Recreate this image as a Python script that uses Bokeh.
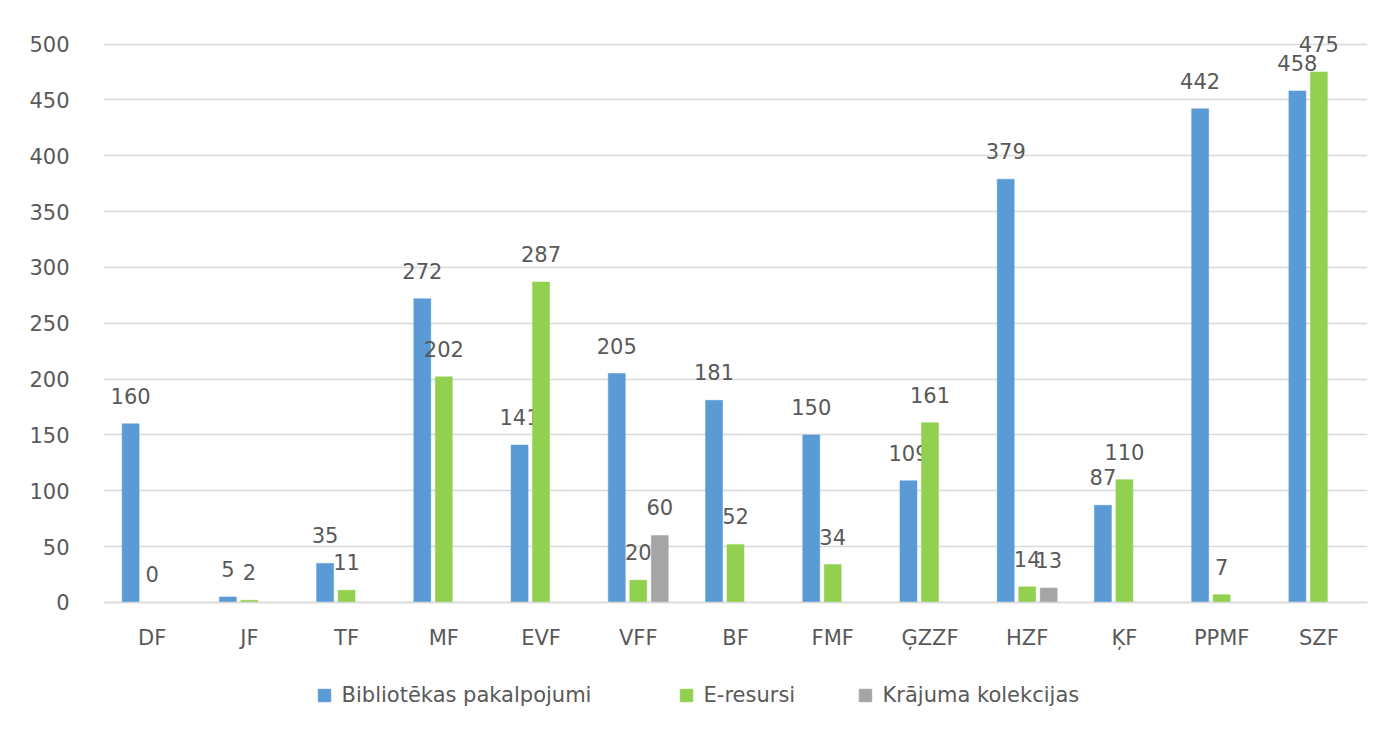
from bokeh.plotting import figure
from bokeh.models import ColumnDataSource, FactorRange, Range1d, FixedTicker, Legend, LegendItem
from bokeh.transform import dodge
from bokeh.core.properties import value
from bokeh.embed import file_html
from bokeh.resources import INLINE

categories = ["DF", "JF", "TF", "MF", "EVF", "VFF", "BF", "FMF", "ĢZZF", "HZF", "ĶF", "PPMF", "SZF"]
biblioteka = [160, 5, 35, 272, 141, 205, 181, 150, 109, 379, 87, 442, 458]
eresursi = [0, 2, 11, 202, 287, 20, 52, 34, 161, 14, 110, 7, 475]
krajums = [None, None, None, None, None, 60, None, None, None, 13, None, None, None]
series_names = ["Bibliotēkas pakalpojumi", "E-resursi", "Krājuma kolekcijas"]
y_ticks = [0, 50, 100, 150, 200, 250, 300, 350, 400, 450, 500]

colors = ["#5b9bd5", "#92d050", "#a5a5a5"]
FONT = "DejaVu Sans"
FS = "21px"
TXT = "#595959"

# frame spans the full height; the x axis is pinned at y=0 so that the legend
# can sit inside the frame below the category labels
p = figure(x_range=FactorRange(*categories), y_range=Range1d(-113.7, 530),
           width=1393, height=729, output_backend="svg", toolbar_location=None,
           min_border_left=103, min_border_right=26, min_border_top=10, min_border_bottom=0)
p.outline_line_color = None
p.background_fill_color = "white"
p.border_fill_color = "white"

p.xgrid.grid_line_color = None
p.ygrid.grid_line_color = "#d9d9d9"
p.ygrid.grid_line_width = 1.5
p.yaxis.ticker = FixedTicker(ticks=y_ticks)
p.yaxis.axis_line_color = None
p.yaxis.major_tick_line_color = None
p.yaxis.minor_tick_line_color = None
p.yaxis.major_label_standoff = 28
p.yaxis.major_label_text_font = FONT
p.yaxis.major_label_text_font_size = FS
p.yaxis.major_label_text_color = TXT

p.xaxis.fixed_location = 0
p.xaxis.axis_line_color = "#d9d9d9"
p.xaxis.axis_line_width = 1.5
p.xaxis.major_tick_line_color = None
p.xaxis.minor_tick_line_color = None
p.xaxis.major_label_standoff = 18
p.xaxis.major_label_text_font = FONT
p.xaxis.major_label_text_font_size = FS
p.xaxis.major_label_text_color = TXT

offsets = [-0.221, 0.0, 0.221]
bar_w = 0.175
all_series = [biblioteka, eresursi, krajums]
renderers = []
for vals, off, col in zip(all_series, offsets, colors):
    xs = [c for c, v in zip(categories, vals) if v is not None]
    ys = [v for v in vals if v is not None]
    src = ColumnDataSource(dict(x=xs, y=ys, lbl=[str(v) for v in ys]))
    r = p.vbar(x=dodge("x", off, range=p.x_range), top="y", width=bar_w, source=src,
               fill_color=col, line_color=col, line_width=0.5)
    renderers.append(r)
    p.text(x=dodge("x", off, range=p.x_range), y="y", text="lbl", source=src,
           text_align="center", text_baseline="middle", y_offset=-28,
           text_font=value(FONT), text_font_size=FS, text_color=TXT)

# one legend per series so each entry sits where the reference has it
leg_x = [212.6, 574.6, 753.6]
for name, r, lx in zip(series_names, renderers, leg_x):
    lg = Legend(items=[LegendItem(label=name, renderers=[r])],
                orientation="horizontal", location=(lx, 22),
                glyph_width=16, glyph_height=16, label_standoff=10, spacing=0,
                label_text_font=FONT, label_text_font_size=FS, label_text_color=TXT,
                border_line_color=None, background_fill_alpha=0, padding=0, margin=0)
    p.add_layout(lg, "center")

open("out.html", "w").write(file_html(p, INLINE))
